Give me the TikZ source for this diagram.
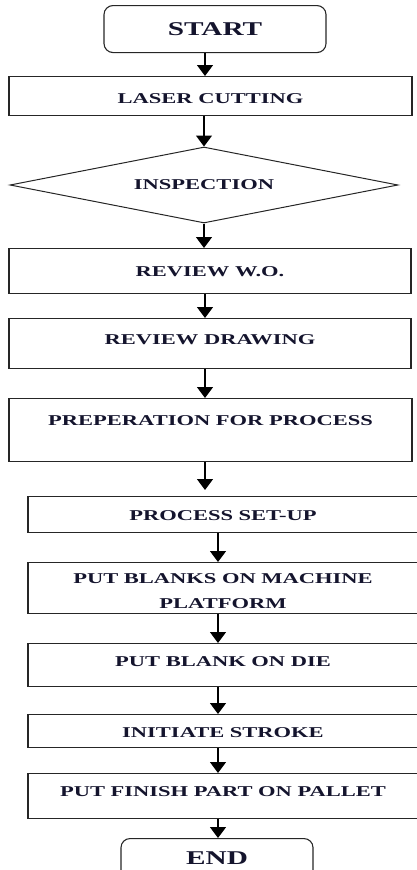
\documentclass[tikz,border=0pt]{standalone}
\usepackage{fontspec}
\setmainfont{Liberation Serif}[FakeStretch=1.5]
\usetikzlibrary{arrows.meta,shapes.geometric}
\definecolor{ink}{RGB}{20,20,45}
\begin{document}
\begin{tikzpicture}[x=1pt,y=-1pt,
  box/.style={draw=black!85, line width=1.1pt, inner sep=0pt, anchor=north, text=ink,
    font=\fontsize{15}{25}\selectfont\bfseries},
  term/.style={box, rounded corners=9pt, font=\fontsize{19.5}{24}\selectfont\bfseries},
  arr/.style={draw=black, line width=1.4pt, -{Triangle[width=16pt,length=11pt]}}]
\useasboundingbox (0,0) rectangle (416,870);
\coordinate (a1) at (205,0);
\coordinate (a2) at (218,0);
\node[term, minimum width=222pt, text height=30pt, text depth=17pt] (start) at (215,5) {START};
\node[box, minimum width=403pt, text height=27pt, text depth=12pt] (laser) at (210.5,76) {LASER CUTTING};
\node[draw=black!85, line width=1pt, diamond, aspect=5, inner sep=0pt, minimum width=388pt, minimum height=76pt, text=ink,
  font=\fontsize{15}{25}\selectfont\bfseries] (insp) at (204,185) {INSPECTION};
\node[box, minimum width=402pt, text height=28pt, text depth=17pt] (rwo) at (210,248) {REVIEW W.O.};
\node[box, minimum width=402pt, text height=26pt, text depth=24pt] (rdr) at (210,318) {REVIEW DRAWING};
\node[box, minimum width=403pt, text height=27pt, text depth=36pt] (prep) at (210.5,398) {PREPERATION FOR PROCESS};
\node[box, minimum width=390pt, text height=24pt, text depth=12pt] (setup) at (223,496) {PROCESS SET-UP};
\node[box, minimum width=390pt, text height=46pt, text depth=5pt, align=center] (blanks) at (223,562) {PUT BLANKS ON MACHINE\\PLATFORM};
\node[box, minimum width=390pt, text height=23pt, text depth=20pt] (die) at (223,643) {PUT BLANK ON DIE};
\node[box, minimum width=390pt, text height=23pt, text depth=10pt] (stroke) at (223,714) {INITIATE STROKE};
\node[box, minimum width=390pt, text height=23pt, text depth=22pt] (finish) at (223,773) {PUT FINISH PART ON PALLET};
\node[term, minimum width=192pt, text height=25.5pt, text depth=22pt] (end) at (217,838) {END};
\draw[arr] (start.south -| a1) -- (laser.north -| a1);
\draw[arr] (laser.south -| insp.north) -- (insp.north);
\draw[arr] (insp.south) -- (rwo.north -| insp.south);
\draw[arr] (rwo.south -| a1) -- (rdr.north -| a1);
\draw[arr] (rdr.south -| a1) -- (prep.north -| a1);
\draw[arr, shorten >=6pt] (prep.south -| a1) -- (setup.north -| a1);
\draw[arr] (setup.south -| a2) -- (blanks.north -| a2);
\draw[arr] (blanks.south -| a2) -- (die.north -| a2);
\draw[arr] (die.south -| a2) -- (stroke.north -| a2);
\draw[arr] (stroke.south -| a2) -- (finish.north -| a2);
\draw[arr] (finish.south -| a2) -- (end.north -| a2);
\end{tikzpicture}
\end{document}
